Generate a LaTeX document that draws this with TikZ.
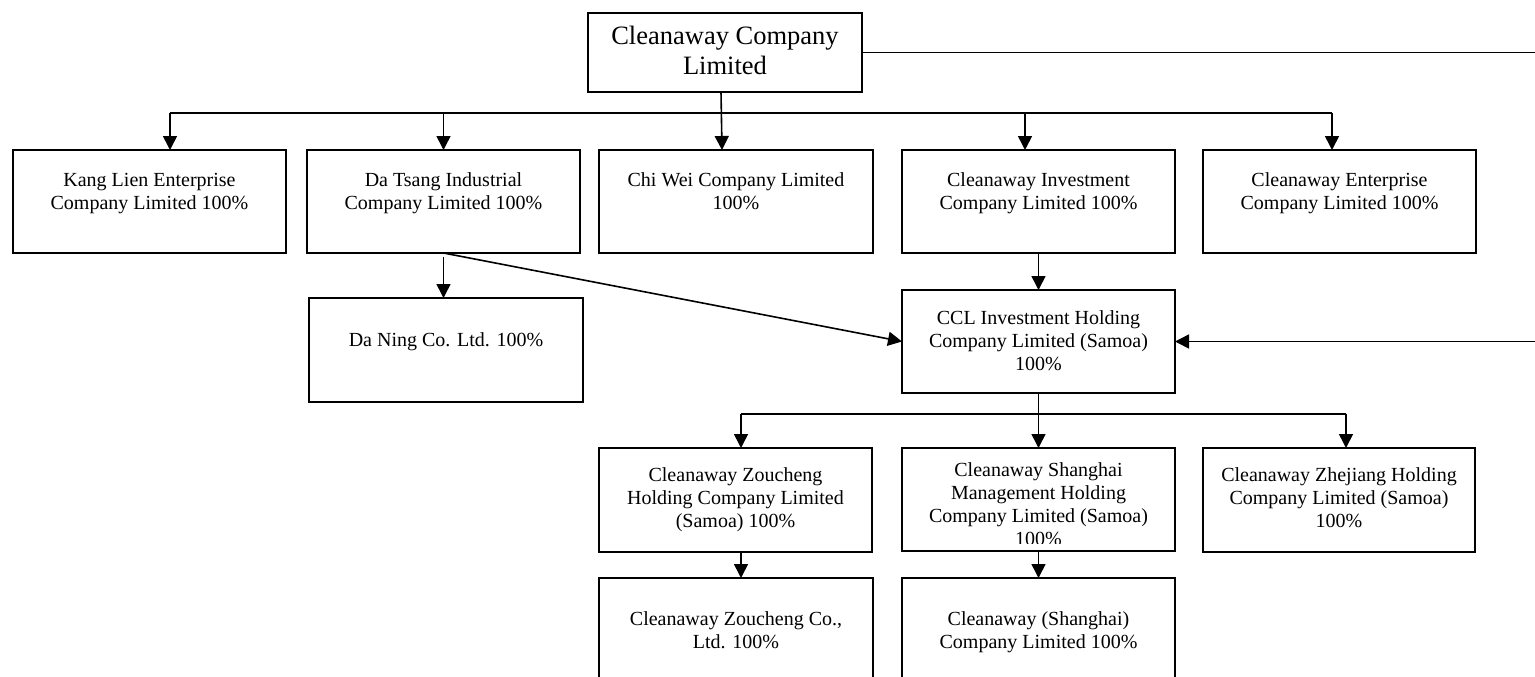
\documentclass[tikz,border=0pt]{standalone}
\usepackage{fontspec}
\setmainfont{Liberation Serif}
\usetikzlibrary{arrows.meta}
\begin{document}
\begin{tikzpicture}[x=1pt,y=-1pt,
  box/.style={draw, line width=1.8pt, inner sep=0pt, outer sep=0pt},
  ln/.style={line width=1.6pt},
  arr/.style={line width=1.6pt, -{Triangle[length=14pt,width=14pt]}},
  txt/.style={font=\fontsize{20}{23}\selectfont, align=center, inner sep=0pt,
    execute at begin node=\strut, execute at end node=\strut},
  bigtxt/.style={font=\fontsize{26.5}{30.5}\selectfont, align=center, inner sep=0pt,
    execute at begin node=\strut, execute at end node=\strut}]
\useasboundingbox (0,0) rectangle (1535,677);

% boxes
\node[box, minimum width=274pt, minimum height=79pt]  (top)     at (725,52.5) {};
\node[box, minimum width=273pt, minimum height=103pt] (kang)    at (149.5,201.5) {};
\node[box, minimum width=273pt, minimum height=103pt] (datsang) at (443.5,201.5) {};
\node[box, minimum width=274pt, minimum height=103pt] (chi)     at (736,201.5) {};
\node[box, minimum width=273pt, minimum height=103pt] (inv)     at (1038.5,201.5) {};
\node[box, minimum width=273pt, minimum height=103pt] (ent)     at (1339.5,201.5) {};
\node[box, minimum width=274pt, minimum height=104pt] (daning)  at (446,350) {};
\node[box, minimum width=273pt, minimum height=103pt] (ccl)     at (1038.5,341.5) {};
\node[box, minimum width=273pt, minimum height=104pt] (zh)      at (735.5,500) {};
\node[box, minimum width=273pt, minimum height=103pt] (sm)      at (1038.5,499.5) {};
\node[box, minimum width=272pt, minimum height=104pt] (zj)      at (1339,500) {};
\node[box, minimum width=274pt, minimum height=124pt] (zc)      at (736,640) {};
\node[box, minimum width=273pt, minimum height=124pt] (sc)      at (1038.5,640) {};

% texts
\node[bigtxt] (topt) at (725,55) {Cleanaway Company\\Limited};
\node[txt] (kangt) at (149.5,195) {Kang Lien Enterprise\\Company Limited 100\%};
\node[txt] (datsangt) at (443.5,195) {Da Tsang Industrial\\Company Limited 100\%};
\node[txt] (chit) at (736,195) {Chi Wei Company Limited\\100\%};
\node[txt] (invt) at (1038.5,195) {Cleanaway Investment\\Company Limited 100\%};
\node[txt] (entt) at (1339.5,195) {Cleanaway Enterprise\\Company Limited 100\%};
\node[txt] (daningt) at (446,342) {Da Ning Co. Ltd. 100\%};
\node[txt] (cclt) at (1038.5,344.5) {CCL Investment Holding\\Company Limited (Samoa)\\100\%};
\node[txt] (zht) at (735.5,501.5) {Cleanaway Zoucheng\\Holding Company Limited\\(Samoa) 100\%};
\begin{scope}
  \clip (902,448) rectangle (1175,543);
  \node[txt] (smt) at (1038.5,507.5) {Cleanaway Shanghai\\Management Holding\\Company Limited (Samoa)\\100\%};
\end{scope}
\node[txt] (zjt) at (1339,501.5) {Cleanaway Zhejiang Holding\\Company Limited (Samoa)\\100\%};
\node[txt] (zct) at (736,634) {Cleanaway Zoucheng Co.,\\Ltd. 100\%};
\node[txt] (sct) at (1038.5,634) {Cleanaway (Shanghai)\\Company Limited 100\%};

% first level bus
\coordinate (b1l) at (170,113);
\coordinate (b1i) at (1025,113);
\coordinate (b1r) at (1332,113);
\draw[ln] (b1l) -- (b1r);
\draw[arr] (b1l) -- (b1l |- kang.north);
\draw[arr] (datsang.north |- b1l) -- (datsang.north);
\draw[arr] ([xshift=-4pt]top.south) -- ([xshift=-14pt]chi.north);
\draw[arr] (b1i) -- (b1i |- inv.north);
\draw[arr] (b1r) -- (b1r |- ent.north);

% Da Tsang connectors
\draw[arr] ([yshift=-4pt]datsang.south) -- (datsang.south |- daning.north);
\draw[arr] (datsang.south) -- (ccl.west);

% Investment to CCL
\draw[arr] (inv.south) -- (ccl.north);

% loop from top to CCL
\coordinate (r1) at (1545,52.5);
\coordinate (r2) at (1545,341.5);
\draw[arr] (top.east) -- (r1) -- (r2) -- (ccl.east);

% second level
\coordinate (b2l) at (741,414);
\coordinate (b2r) at (1346,414);
\draw[ln] (b2l) -- (b2r);
\draw[arr] (ccl.south) -- (sm.north);
\draw[arr] (b2l) -- (b2l |- zh.north);
\draw[arr] (b2r) -- (b2r |- zj.north);

% third level
\draw[arr] (b2l |- zh.south) -- (b2l |- zc.north);
\draw[arr] (sm.south) -- (sc.north);
\end{tikzpicture}
\end{document}
